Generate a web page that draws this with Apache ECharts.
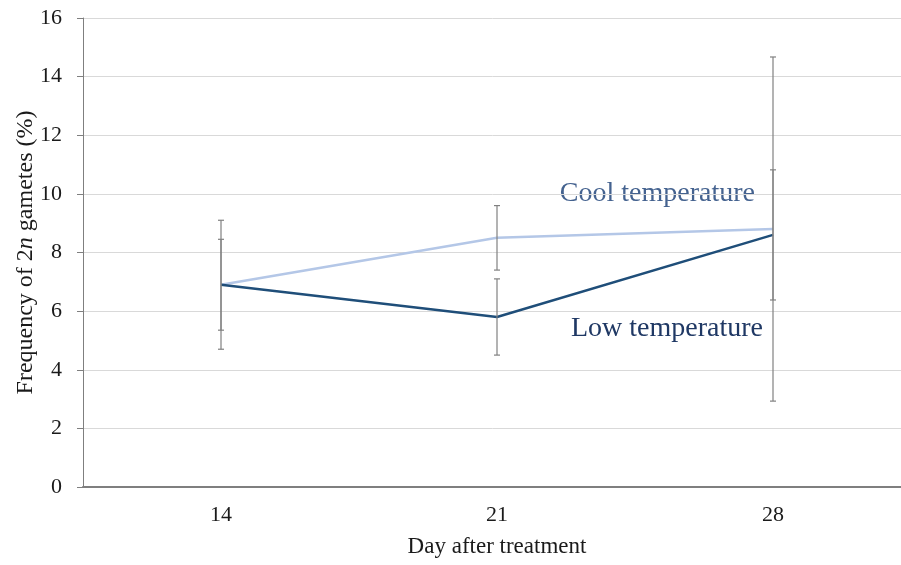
<!DOCTYPE html>
<html>
<head>
<meta charset="utf-8">
<script src="https://cdn.jsdelivr.net/npm/echarts@6/dist/echarts.min.js"></script>
<style>
  html, body { margin: 0; padding: 0; background: #fff; }
  #chart { width: 901px; height: 565px; }
</style>
</head>
<body>
<div id="chart"></div>
<script>
// Days after treatment
const days = ['14', '21', '28'];
// Mean frequency of 2n gametes (%)
const coolMean = [6.9, 8.5, 8.8];
const lowMean = [6.9, 5.8, 8.6];
// Half-width of the error bars
const coolErr = [1.55, 1.1, 5.87];
const lowErr = [2.2, 1.3, 2.22];
// Y axis ticks
const yTicks = [0, 2, 4, 6, 8, 10, 12, 14, 16];

const serif = '"Liberation Serif", "DejaVu Serif", serif';
const coolColor = '#b4c7e7';
const lowColor = '#1f4e79';
const errColor = '#808080';
const textColor = '#1a1a1a';

function errorBars(means, errs) {
  return means.map((m, i) => [i, m - errs[i], m + errs[i]]);
}

function renderErr(params, api) {
  const x = api.value(0);
  const lo = api.coord([x, api.value(1)]);
  const hi = api.coord([x, api.value(2)]);
  const hw = 3;
  const style = { stroke: errColor, lineWidth: 1.2 };
  return {
    type: 'group',
    children: [
      { type: 'line', shape: { x1: hi[0], y1: hi[1], x2: lo[0], y2: lo[1] }, style },
      { type: 'line', shape: { x1: hi[0] - hw, y1: hi[1], x2: hi[0] + hw, y2: hi[1] }, style },
      { type: 'line', shape: { x1: lo[0] - hw, y1: lo[1], x2: lo[0] + hw, y2: lo[1] }, style }
    ]
  };
}

const chart = echarts.init(document.getElementById('chart'));
chart.setOption({
  animation: false,
  backgroundColor: '#fff',
  grid: { left: 83, right: -10, top: 18, bottom: 78, containLabel: false, outerBoundsMode: 'none' },
  xAxis: {
    type: 'category',
    data: days,
    boundaryGap: true,
    name: 'Day after treatment',
    nameLocation: 'middle',
    nameGap: 48,
    nameMoveOverlap: false,
    nameTextStyle: { fontFamily: serif, fontSize: 23, color: textColor },
    axisLine: { lineStyle: { color: '#7f7f7f', width: 2 } },
    axisTick: { show: false },
    axisLabel: { fontFamily: serif, fontSize: 22, color: textColor, margin: 17 },
    splitLine: { show: false }
  },
  yAxis: {
    type: 'value',
    min: yTicks[0],
    max: yTicks[yTicks.length - 1],
    interval: 2,
    name: 'Frequency of 2{i|n} gametes (%)',
    nameLocation: 'middle',
    nameGap: 45,
    nameMoveOverlap: false,
    nameRotate: 90,
    nameTextStyle: {
      fontFamily: serif, fontSize: 24, color: textColor,
      rich: { i: { fontFamily: serif, fontSize: 24, fontStyle: 'italic', color: textColor } }
    },
    axisLine: { show: true, lineStyle: { color: '#7f7f7f', width: 1 } },
    axisTick: { show: true, length: 6, lineStyle: { color: '#7f7f7f' } },
    axisLabel: { fontFamily: serif, fontSize: 22, color: textColor, margin: 21 },
    splitLine: { lineStyle: { color: '#d9d9d9', width: 1 } }
  },
  series: [
    {
      name: 'Cool temperature',
      type: 'line',
      data: coolMean,
      symbol: 'none',
      lineStyle: { color: coolColor, width: 2.5 },
      z: 3
    },
    {
      name: 'Low temperature',
      type: 'line',
      data: lowMean,
      symbol: 'none',
      lineStyle: { color: lowColor, width: 2.5 },
      z: 4
    },
    {
      type: 'custom',
      renderItem: renderErr,
      data: errorBars(coolMean, coolErr),
      z: 5
    },
    {
      type: 'custom',
      renderItem: renderErr,
      data: errorBars(lowMean, lowErr),
      z: 5
    }
  ],
  graphic: [
    {
      type: 'text', x: 755, y: 194,
      style: { text: 'Cool temperature', font: '28px ' + serif, fill: '#44628f',
               textAlign: 'right', textVerticalAlign: 'middle' }
    },
    {
      type: 'text', x: 763, y: 329,
      style: { text: 'Low temperature', font: '28px ' + serif, fill: '#1f3864',
               textAlign: 'right', textVerticalAlign: 'middle' }
    }
  ]
});
</script>
</body>
</html>
